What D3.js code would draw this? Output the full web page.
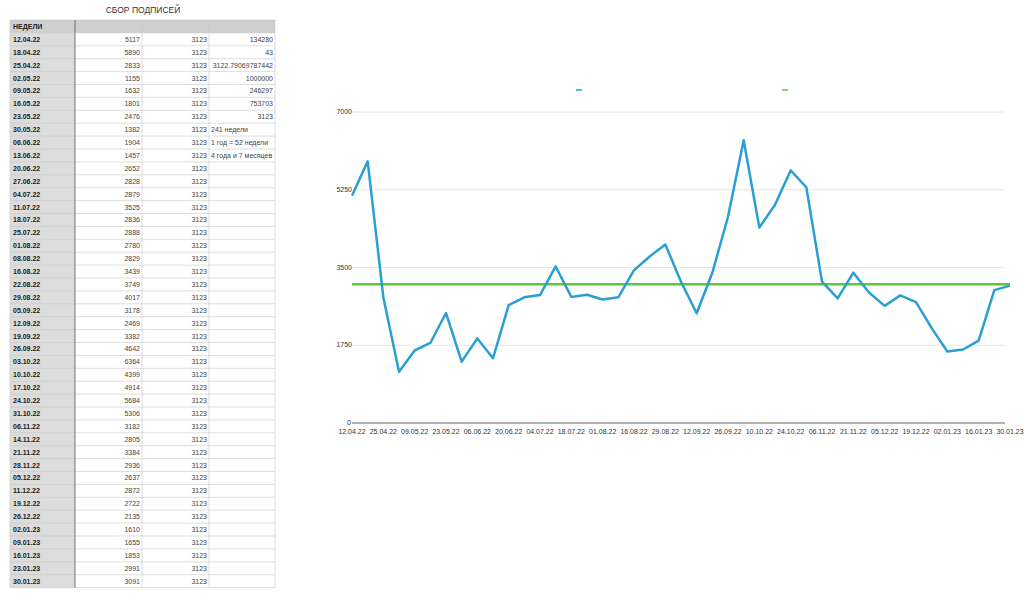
<!DOCTYPE html>
<html><head><meta charset="utf-8">
<script src="https://cdn.jsdelivr.net/npm/d3@7"></script>
<style>body{margin:0;background:#fff;font-family:"Liberation Sans",Arial,sans-serif}</style>
</head><body><svg id="c" width="1024" height="602"></svg>
<script>
const dates=["12.04.22","18.04.22","25.04.22","02.05.22","09.05.22","16.05.22","23.05.22","30.05.22","06.06.22","13.06.22","20.06.22","27.06.22","04.07.22","11.07.22","18.07.22","25.07.22","01.08.22","08.08.22","16.08.22","22.08.22","29.08.22","05.09.22","12.09.22","19.09.22","26.09.22","03.10.22","10.10.22","17.10.22","24.10.22","31.10.22","06.11.22","14.11.22","21.11.22","28.11.22","05.12.22","11.12.22","19.12.22","26.12.22","02.01.23","09.01.23","16.01.23","23.01.23","30.01.23"];
const values=[5117,5890,2833,1155,1632,1801,2476,1382,1904,1457,2652,2828,2879,3525,2836,2888,2780,2829,3439,3749,4017,3178,2469,3382,4642,6364,4399,4914,5684,5306,3182,2805,3384,2936,2637,2872,2722,2135,1610,1655,1853,2991,3091];
const target=3123;
const extra=["134280","43","3122.79069787442","1000000","246297","753703","3123","241 недели","1 год = 52 недели","4 года и 7 месяцев"];
const xLabels=["12.04.22","25.04.22","09.05.22","23.05.22","06.06.22","20.06.22","04.07.22","18.07.22","01.08.22","16.08.22","29.08.22","12.09.22","26.09.22","10.10.22","24.10.22","06.11.22","21.11.22","05.12.22","19.12.22","02.01.23","16.01.23","30.01.23"];
const yTicks=[0,1750,3500,5250,7000];

const svg=d3.select("#c");
// table
const tx=d3.scaleOrdinal().domain([0,1,2,3,4]).range([10,75,142,209,275]);
const ry=d3.scaleLinear().domain([0,1]).range([20,32.9]);
const nRows=dates.length+1;
const tg=svg.append("g").style("font-size","7px");
tg.append("text").attr("x",143).attr("y",13).attr("text-anchor","middle").style("font-size","8.5px").attr("fill","#333").text("СБОР ПОДПИСЕЙ");
tg.append("rect").attr("x",10).attr("y",ry(0)).attr("width",265).attr("height",ry(1)-ry(0)).attr("fill","#cfcfcf");
tg.append("rect").attr("x",10).attr("y",ry(1)).attr("width",65).attr("height",ry(nRows)-ry(1)).attr("fill","#dcdcdc");
for(let i=0;i<=nRows;i++) tg.append("line").attr("x1",10).attr("x2",275).attr("y1",ry(i)).attr("y2",ry(i)).attr("stroke","#c8c8c8").attr("stroke-width",0.6);
[0,1,2,3,4].forEach(c=>tg.append("line").attr("x1",tx(c)).attr("x2",tx(c)).attr("y1",ry(0)).attr("y2",ry(nRows)).attr("stroke",c==1?"#555":"#c8c8c8").attr("stroke-width",c==1?0.8:0.6));
tg.append("text").attr("x",13).attr("y",ry(0.5)+2.5).attr("font-weight","bold").attr("fill","#222").text("НЕДЕЛИ");
dates.forEach((d,i)=>{
  const y=ry(i+1.5)+2.5;
  tg.append("text").attr("x",13).attr("y",y).attr("font-weight","bold").attr("fill","#222").text(d);
  tg.append("text").attr("x",140).attr("y",y).attr("text-anchor","end").attr("fill","#444").text(values[i]);
  tg.append("text").attr("x",207).attr("y",y).attr("text-anchor","end").attr("fill","#444").text(target);
  if(i<extra.length){
    const isNum=i<7;
    tg.append("text").attr("x",isNum?273:211).attr("y",y).attr("text-anchor",isNum?"end":"start").attr("fill","#444").text(extra[i]);
  }
});
// chart
const x=d3.scalePoint().domain(dates).range([352,1010]);
const y=d3.scaleLinear().domain([0,7000]).range([423,112]);
const g=svg.append("g");
yTicks.forEach(t=>{
  g.append("line").attr("x1",352).attr("x2",1005).attr("y1",y(t)).attr("y2",y(t)).attr("stroke",t==0?"#999":"#e6e6e6").attr("stroke-width",t==0?1.5:1);
  g.append("text").attr("x",t==0?351:352).attr("y",y(t)+2).attr("text-anchor","end").style("font-size","7px").attr("fill","#333").text(t);
});
xLabels.forEach(l=>g.append("text").attr("x",x(l)).attr("y",434).attr("text-anchor","middle").style("font-size","7px").attr("fill","#333").text(l));
g.append("line").attr("x1",352).attr("x2",1010).attr("y1",y(target)).attr("y2",y(target)).attr("stroke","#5dc63a").attr("stroke-width",2.5);
g.append("path").datum(values).attr("fill","none").attr("stroke","#2a9fd3").attr("stroke-width",2.5).attr("stroke-linejoin","round")
 .attr("d",d3.line().x((d,i)=>x(dates[i])).y(d=>y(d)));
g.append("line").attr("x1",576).attr("x2",582).attr("y1",90).attr("y2",90).attr("stroke","#2a9fd3").attr("stroke-width",1.5);
g.append("line").attr("x1",782).attr("x2",788).attr("y1",90).attr("y2",90).attr("stroke","#5dc63a").attr("stroke-width",1.5);
</script></body></html>
